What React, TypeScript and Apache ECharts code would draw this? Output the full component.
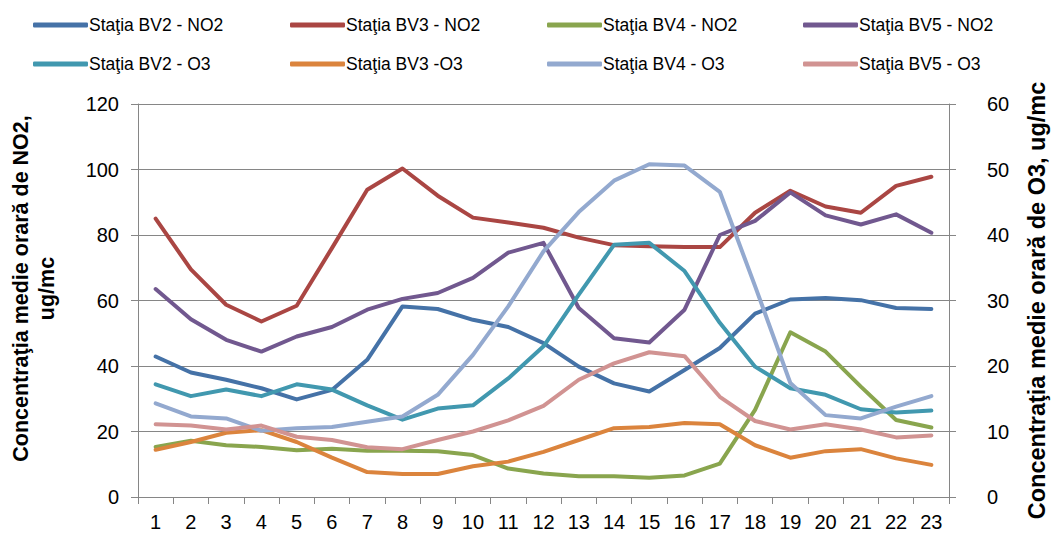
import React, { useEffect, useRef } from "react";
import * as echarts from "echarts";

const hours = ["1","2","3","4","5","6","7","8","9","10","11","12","13","14","15","16","17","18","19","20","21","22","23"];

const bv2NO2 = [42.9, 38, 35.8, 33.2, 29.8, 32.7, 41.9, 58.2, 57.4, 54.1, 51.9, 47, 39.8, 34.7, 32.2, 38.8, 45.5, 56, 60.3, 60.8, 60.1, 57.7, 57.4];
const bv3NO2 = [85, 69.5, 58.7, 53.6, 58.4, 76, 93.8, 100.3, 92, 85.3, 83.8, 82.2, 79.2, 76.9, 76.6, 76.3, 76.3, 86.8, 93.5, 88.7, 86.8, 95, 97.8];
const bv4NO2 = [15.3, 17.2, 15.8, 15.3, 14.3, 14.7, 14.1, 14.1, 14, 12.8, 8.7, 7.2, 6.3, 6.3, 5.9, 6.6, 10.2, 26.6, 50.3, 44.4, 33.7, 23.5, 21.2];
const bv5NO2 = [63.5, 54.3, 48, 44.4, 49, 51.9, 57.2, 60.5, 62.3, 66.9, 74.6, 77.6, 57.7, 48.5, 47.2, 57.2, 80, 84.3, 93, 86, 83.2, 86.3, 80.7];
const bv2O3 = [17.2, 15.4, 16.4, 15.4, 17.2, 16.4, 14, 11.8, 13.5, 14, 18.1, 23, 30.9, 38.5, 38.8, 34.5, 26.6, 19.9, 16.6, 15.6, 13.4, 12.9, 13.2];
const bv3O3 = [7.2, 8.4, 9.8, 10.2, 8.4, 6, 3.8, 3.5, 3.5, 4.7, 5.4, 6.9, 8.7, 10.5, 10.7, 11.3, 11.1, 7.9, 6, 7, 7.3, 5.9, 4.9];
const bv4O3 = [14.3, 12.3, 12, 10.1, 10.5, 10.7, 11.5, 12.3, 15.6, 21.7, 29.1, 37.5, 43.5, 48.3, 50.8, 50.6, 46.6, 32.2, 17.4, 12.5, 12, 13.8, 15.4];
const bv5O3 = [11.1, 10.9, 10.3, 10.9, 9.2, 8.7, 7.6, 7.3, 8.7, 10, 11.7, 13.9, 17.9, 20.4, 22.1, 21.5, 15.3, 11.6, 10.3, 11.1, 10.3, 9.1, 9.4];

const seriesDefs = [
  { name: "Staţia BV2 - NO2", data: bv2NO2, color: "#4572A7", axis: 0 },
  { name: "Staţia BV3 - NO2", data: bv3NO2, color: "#AA4643", axis: 0 },
  { name: "Staţia BV4 - NO2", data: bv4NO2, color: "#89A54E", axis: 0 },
  { name: "Staţia BV5 - NO2", data: bv5NO2, color: "#71588F", axis: 0 },
  { name: "Staţia BV2 - O3", data: bv2O3, color: "#4198AF", axis: 1 },
  { name: "Staţia BV3 -O3", data: bv3O3, color: "#DB843D", axis: 1 },
  { name: "Staţia BV4 - O3", data: bv4O3, color: "#93A9CF", axis: 1 },
  { name: "Staţia BV5 - O3", data: bv5O3, color: "#D19392", axis: 1 },
];

const legendCols = [28, 285, 542, 798];
const legendRows = [11, 50];

export default function App() {
  const ref = useRef<HTMLDivElement>(null);
  useEffect(() => {
    if (!ref.current) return;
    const chart = echarts.init(ref.current, undefined, { renderer: "svg" });
    const font = "'Liberation Sans', Arial, sans-serif";
    const legends = seriesDefs.map((s, i) => ({
      data: [s.name],
      left: legendCols[i % 4],
      top: legendRows[Math.floor(i / 4)],
      icon: "roundRect",
      itemWidth: 55,
      itemHeight: 5,
      itemGap: 0,
      selectedMode: false,
      textStyle: { fontFamily: font, fontSize: 17.5, color: "#000", padding: [0, 0, 0, -4] },
    }));
    const axisLineStyle = { show: true, lineStyle: { color: "#868686", width: 1 } };
    chart.setOption({
      animation: false,
      backgroundColor: "#fff",
      legend: legends,
      grid: { left: 130, right: 95, top: 104, bottom: 39, containLabel: false },
      xAxis: {
        type: "category",
        data: hours,
        boundaryGap: true,
        axisLine: axisLineStyle,
        axisTick: { show: true, alignWithLabel: false, length: 7, lineStyle: { color: "#868686" } },
        axisLabel: { fontFamily: font, fontSize: 20, color: "#000", margin: 15, interval: 0 },
        splitLine: { show: false },
      },
      yAxis: [
        {
          type: "value",
          min: 0,
          max: 120,
          interval: 20,
          position: "left",
          axisLine: axisLineStyle,
          axisTick: { show: true, length: 7, lineStyle: { color: "#868686" } },
          axisLabel: { fontFamily: font, fontSize: 20, color: "#000", margin: 19 },
          splitLine: { show: true, lineStyle: { color: "#868686", width: 1 } },
          name: "Concentraţia medie orară de NO2,\nug/mc",
          nameLocation: "middle",
          nameRotate: 90,
          nameGap: 78,
          nameTextStyle: {
            fontFamily: font,
            fontSize: 21.5,
            fontWeight: "bold",
            color: "#000",
            lineHeight: 26,
            padding: [0, 0, 0, 24],
          },
        },
        {
          type: "value",
          min: 0,
          max: 60,
          interval: 10,
          position: "right",
          axisLine: axisLineStyle,
          axisTick: { show: true, length: 7, lineStyle: { color: "#868686" } },
          axisLabel: { fontFamily: font, fontSize: 20, color: "#000", margin: 38 },
          splitLine: { show: false },
          name: "Concentraţia medie orară de O3, ug/mc",
          nameLocation: "middle",
          nameRotate: 90,
          nameGap: 76,
          nameTextStyle: { fontFamily: font, fontSize: 23.5, fontWeight: "bold", color: "#000" },
        },
      ],
      series: seriesDefs.map((s) => ({
        name: s.name,
        type: "line",
        yAxisIndex: s.axis,
        data: s.data,
        symbol: "none",
        color: s.color,
        lineStyle: { color: s.color, width: 4, join: "round", cap: "round" },
        itemStyle: { color: s.color },
      })),
    });
    return () => chart.dispose();
  }, []);
  return <div ref={ref} style={{ width: 1057, height: 536, position: "absolute", left: 0, top: 0 }} />;
}
